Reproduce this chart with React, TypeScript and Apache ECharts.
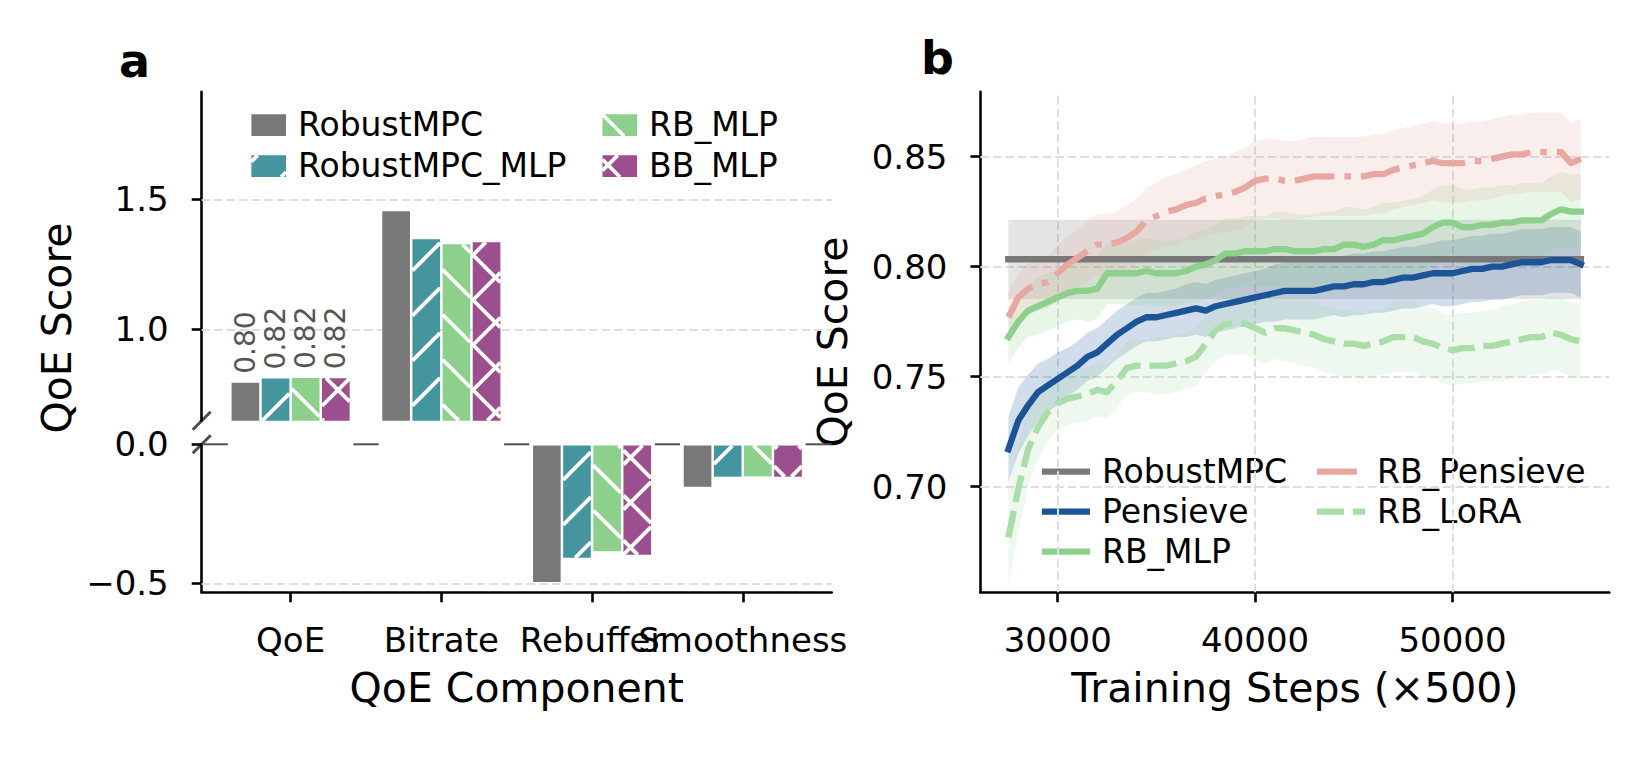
import React, { useEffect, useRef } from 'react';
import * as echarts from 'echarts';

// ---------------- Panel a data ----------------
const CATEGORIES = ['QoE', 'Bitrate', 'Rebuffer', 'Smoothness'];
const METHODS_A = ['RobustMPC', 'RobustMPC_MLP', 'RB_MLP', 'BB_MLP'];
const ROBUSTMPC_BARS = [0.799, 1.459, -0.5, -0.157];
const ROBUSTMPC_MLP_BARS = [0.816, 1.351, -0.413, -0.121];
const RB_MLP_BARS = [0.818, 1.332, -0.389, -0.12];
const BB_MLP_BARS = [0.817, 1.34, -0.402, -0.121];
const A_UPPER_TICKS = [1.0, 1.5];
const A_LOWER_TICKS = [-0.5, 0.0];

// ---------------- Panel b data ----------------
const STEPS = [
  27500, 28000, 28500, 29000, 29500, 30000, 30500, 31000, 31500, 32000,
  32500, 33000, 33500, 34000, 34500, 35000, 35500, 36000, 36500, 37000,
  37500, 38000, 38500, 39000, 39500, 40000, 40500, 41000, 41500, 42000,
  42500, 43000, 43500, 44000, 44500, 45000, 45500, 46000, 46500, 47000,
  47500, 48000, 48500, 49000, 49500, 50000, 50500, 51000, 51500, 52000,
  52500, 53000, 53500, 54000, 54500, 55000, 55500, 56000, 56500,
];
const ROBUSTMPC_QOE = 0.8033;
const ROBUSTMPC_STD = 0.018;
const PENSIEVE = [
  0.717, 0.730, 0.737, 0.743, 0.746, 0.749, 0.752, 0.755, 0.759, 0.761,
  0.765, 0.769, 0.772, 0.775, 0.777, 0.777, 0.778, 0.779, 0.780, 0.781,
  0.780, 0.782, 0.783, 0.784, 0.785, 0.786, 0.787, 0.788, 0.789, 0.789,
  0.789, 0.789, 0.790, 0.791, 0.791, 0.792, 0.792, 0.793, 0.793, 0.794,
  0.795, 0.795, 0.796, 0.797, 0.797, 0.797, 0.798, 0.799, 0.799, 0.800,
  0.800, 0.801, 0.802, 0.802, 0.802, 0.803, 0.803, 0.803, 0.801,
];
const PENSIEVE_STD = [
  0.015, 0.015, 0.014, 0.013, 0.012, 0.012, 0.011, 0.011, 0.011, 0.011,
  0.011, 0.011, 0.011, 0.011, 0.011, 0.011, 0.011, 0.011, 0.012, 0.012,
  0.012, 0.012, 0.012, 0.012, 0.012, 0.012, 0.012, 0.013, 0.013, 0.013,
  0.013, 0.013, 0.013, 0.013, 0.014, 0.014, 0.014, 0.014, 0.014, 0.014,
  0.014, 0.014, 0.014, 0.014, 0.015, 0.015, 0.015, 0.015, 0.015, 0.015,
  0.015, 0.015, 0.015, 0.015, 0.015, 0.015, 0.015, 0.015, 0.015,
];
const RB_MLP = [
  0.768, 0.775, 0.780, 0.782, 0.784, 0.786, 0.788, 0.789, 0.789, 0.790,
  0.797, 0.797, 0.797, 0.797, 0.798, 0.797, 0.797, 0.797, 0.798, 0.800,
  0.801, 0.803, 0.806, 0.806, 0.807, 0.807, 0.807, 0.808, 0.808, 0.807,
  0.807, 0.807, 0.808, 0.808, 0.810, 0.810, 0.809, 0.810, 0.812, 0.812,
  0.813, 0.814, 0.815, 0.818, 0.820, 0.820, 0.818, 0.818, 0.819, 0.819,
  0.820, 0.820, 0.821, 0.821, 0.821, 0.824, 0.826, 0.825, 0.825,
];
const RB_MLP_STD = [
  0.012, 0.012, 0.012, 0.013, 0.013, 0.013, 0.013, 0.013, 0.014, 0.014,
  0.014, 0.014, 0.014, 0.015, 0.015, 0.015, 0.015, 0.015, 0.015, 0.016,
  0.016, 0.016, 0.016, 0.016, 0.016, 0.016, 0.016, 0.017, 0.017, 0.017,
  0.017, 0.017, 0.017, 0.017, 0.017, 0.017, 0.017, 0.017, 0.017, 0.017,
  0.017, 0.017, 0.017, 0.017, 0.017, 0.017, 0.017, 0.017, 0.017, 0.017,
  0.017, 0.017, 0.017, 0.017, 0.017, 0.017, 0.017, 0.017, 0.017,
];
const RB_PENSIEVE = [
  0.777, 0.786, 0.790, 0.792, 0.793, 0.797, 0.801, 0.804, 0.807, 0.810,
  0.810, 0.811, 0.813, 0.816, 0.821, 0.823, 0.825, 0.826, 0.828, 0.829,
  0.831, 0.832, 0.833, 0.834, 0.836, 0.839, 0.840, 0.840, 0.839, 0.839,
  0.840, 0.841, 0.841, 0.841, 0.841, 0.841, 0.841, 0.842, 0.842, 0.844,
  0.845, 0.846, 0.847, 0.848, 0.847, 0.847, 0.847, 0.848, 0.848, 0.849,
  0.850, 0.851, 0.851, 0.852, 0.852, 0.852, 0.852, 0.847, 0.849,
];
const RB_PENSIEVE_STD = [
  0.011, 0.011, 0.012, 0.012, 0.012, 0.013, 0.013, 0.013, 0.014, 0.014,
  0.014, 0.014, 0.015, 0.015, 0.015, 0.015, 0.016, 0.016, 0.016, 0.017,
  0.017, 0.017, 0.017, 0.018, 0.018, 0.018, 0.018, 0.018, 0.018, 0.018,
  0.018, 0.018, 0.018, 0.018, 0.018, 0.018, 0.018, 0.018, 0.018, 0.018,
  0.018, 0.018, 0.018, 0.018, 0.018, 0.018, 0.018, 0.018, 0.018, 0.018,
  0.018, 0.018, 0.018, 0.018, 0.018, 0.018, 0.018, 0.018, 0.018,
];
const RB_LORA = [
  0.677, 0.699, 0.717, 0.727, 0.734, 0.738, 0.740, 0.741, 0.742, 0.744,
  0.743, 0.748, 0.754, 0.755, 0.755, 0.755, 0.755, 0.756, 0.757, 0.759,
  0.765, 0.771, 0.774, 0.774, 0.774, 0.772, 0.770, 0.772, 0.772, 0.771,
  0.770, 0.769, 0.767, 0.766, 0.765, 0.765, 0.764, 0.765, 0.766, 0.768,
  0.768, 0.768, 0.766, 0.765, 0.763, 0.762, 0.763, 0.763, 0.764, 0.764,
  0.765, 0.766, 0.767, 0.768, 0.768, 0.770, 0.769, 0.767, 0.766,
];
const RB_LORA_STD = [
  0.022, 0.020, 0.017, 0.015, 0.013, 0.012, 0.012, 0.012, 0.012, 0.012,
  0.012, 0.012, 0.012, 0.012, 0.012, 0.013, 0.013, 0.013, 0.013, 0.013,
  0.013, 0.014, 0.014, 0.014, 0.014, 0.014, 0.014, 0.014, 0.015, 0.015,
  0.015, 0.015, 0.015, 0.015, 0.015, 0.015, 0.015, 0.015, 0.015, 0.016,
  0.016, 0.016, 0.016, 0.016, 0.016, 0.016, 0.016, 0.016, 0.016, 0.016,
  0.017, 0.017, 0.017, 0.017, 0.017, 0.017, 0.017, 0.017, 0.017,
];
const X_TICKS_B = [30000, 40000, 50000];
const Y_TICKS_B = [0.7, 0.75, 0.8, 0.85];

// ---------------- Styles & layout ----------------
const FONT = 'DejaVu Sans';
const BAR_VALUES = [ROBUSTMPC_BARS, ROBUSTMPC_MLP_BARS, RB_MLP_BARS, BB_MLP_BARS];
const BAR_COLORS = ['#787878', '#44959e', '#8dd08b', '#9b4f8e'];
const BAR_HATCH = ['', '/', '\\', 'x'];
const BAR_W = 0.2;

const B_NAMES = ['RobustMPC', 'Pensieve', 'RB_MLP', 'RB_Pensieve', 'RB_LoRA'];
const B_COLORS = ['#787878', '#1b5497', '#8dd08b', '#e8a8a2', '#aadda8'];
const B_DASH: any[] = ['solid', 'solid', 'solid', [40, 10, 6.5, 10], [27, 9]];

const A_LEFT = 201.7, A_WIDTH = 630;
const A_TOP = 91.7, A_UP_H = 329;
const A_LOW_TOP = 444.3, A_LOW_H = 148;
const A_X_MIN = -0.59, A_X_MAX = 3.59;
const A_UP_MIN = 0.6485, A_UP_MAX = 1.914;
const A_LOW_MIN = -0.5324, A_LOW_MAX = 0;
const B_LEFT = 980.4, B_WIDTH = 628.9, B_TOP = 91.7, B_H = 500.6;
const B_X_MIN = 26082, B_X_MAX = 57942;
const B_Y_MIN = 0.652, B_Y_MAX = 0.8795;

const GRID_LINE = { color: '#dedede', width: 2, type: [8.5, 4] as any };
const AXIS_LINE = { color: '#000', width: 2.6 };
const TICK_FONT = 34;
const X_LABEL_OFFSET = 48; // from axis line to label centre

const HATCH_SPACING = 45;
const HATCH_PHASE_NE = 8;
const HATCH_PHASE_NW = 38;
const HATCH_WIDTH = 3.8;

function hatchSegments(x0: number, y0: number, x1: number, y1: number, kind: string) {
  const segs: number[][] = [];
  const parts = kind === 'x' ? ['/', '\\'] : kind ? [kind] : [];
  for (const p of parts) {
    if (p === '/') {
      let c = Math.ceil((x0 + y0 - HATCH_PHASE_NE) / HATCH_SPACING) * HATCH_SPACING + HATCH_PHASE_NE;
      for (; c <= x1 + y1; c += HATCH_SPACING) {
        const xa = Math.max(x0, c - y1), xb = Math.min(x1, c - y0);
        if (xb > xa) segs.push([xa, c - xa, xb, c - xb]);
      }
    } else {
      let c = Math.ceil((x0 - y1 - HATCH_PHASE_NW) / HATCH_SPACING) * HATCH_SPACING + HATCH_PHASE_NW;
      for (; c <= x1 - y0; c += HATCH_SPACING) {
        const xa = Math.max(x0, c + y0), xb = Math.min(x1, c + y1);
        if (xb > xa) segs.push([xa, xa - c, xb, xb - c]);
      }
    }
  }
  return segs;
}

function hatchLineEls(segs: number[][]) {
  return segs.map((s) => ({
    type: 'line',
    shape: { x1: s[0], y1: s[1], x2: s[2], y2: s[3] },
    style: { stroke: '#ffffff', lineWidth: HATCH_WIDTH },
  }));
}

function rgba(hex: string, a: number) {
  const n = parseInt(hex.slice(1), 16);
  return `rgba(${(n >> 16) & 255},${(n >> 8) & 255},${n & 255},${a})`;
}

const makeBarRender = (withLabels: boolean) => (params: any, api: any) => {
  const ci = api.value(0), v = api.value(1), mi = api.value(2);
  const cs = params.coordSys;
  const off = (mi - (METHODS_A.length - 1) / 2) * BAR_W;
  const pa = api.coord([ci + off - BAR_W / 2, 0]);
  const pb = api.coord([ci + off + BAR_W / 2, v]);
  const EDGE = 1.25;
  const x0 = pa[0] + EDGE, x1 = pb[0] - EDGE;
  let top = Math.min(pa[1], pb[1]);
  let bot = Math.max(pa[1], pb[1]);
  const gTop = cs.y, gBot = cs.y + cs.height;
  const clipTop = top < gTop - 0.01, clipBot = bot > gBot + 0.01;
  top = clipTop ? gTop : top + EDGE;
  bot = clipBot ? gBot : bot - EDGE;
  if (bot - top <= 0.5) return null;
  const children: any[] = [
    { type: 'rect', shape: { x: x0, y: top, width: x1 - x0, height: bot - top }, style: { fill: BAR_COLORS[mi] } },
    ...hatchLineEls(hatchSegments(x0, top, x1, bot, BAR_HATCH[mi])),
  ];
  if (withLabels && ci === 0) {
    children.push({
      type: 'text',
      x: (x0 + x1) / 2,
      y: top - 9,
      rotation: Math.PI / 2,
      style: { text: v.toFixed(2), fill: '#555555', fontSize: 28, fontFamily: FONT, align: 'left', verticalAlign: 'middle' },
    });
  }
  return { type: 'group', children };
};

const zeroLineRender = (params: any, api: any) => {
  const i = api.value(0);
  const half = (BAR_W * METHODS_A.length) / 2;
  const start = Math.max(i + half, A_X_MIN);
  const end = Math.min(i + 1 - half, A_X_MAX);
  const p0 = api.coord([start, 0]);
  const p1 = api.coord([end, 0]);
  const x1 = start > A_X_MIN ? p0[0] + 2.5 : p0[0];
  const x2 = end < A_X_MAX ? p1[0] - 2.5 : p1[0];
  return { type: 'line', shape: { x1, y1: p0[1], x2, y2: p1[1] }, style: { stroke: '#505050', lineWidth: 2 } };
};

const categoryLabelRender = (params: any, api: any) => {
  const i = api.value(0);
  const cs = params.coordSys;
  const p = api.coord([i, A_LOW_MIN]);
  return {
    type: 'text',
    x: p[0],
    y: cs.y + cs.height + X_LABEL_OFFSET,
    style: { text: CATEGORIES[i], fill: '#000', fontSize: TICK_FONT, fontFamily: FONT, align: 'center', verticalAlign: 'middle' },
  };
};

const makeBandRender = (color: string) => (params: any, api: any) => {
  if (params.dataIndexInside !== 0) return null;
  const n = params.dataInsideLength;
  const up: number[][] = [], lo: number[][] = [];
  for (let j = 0; j < n; j++) {
    const x = api.value(0, j);
    lo.push(api.coord([x, api.value(1, j)]));
    up.push(api.coord([x, api.value(2, j)]));
  }
  return { type: 'polygon', shape: { points: up.concat(lo.reverse()) }, style: { fill: rgba(color, 0.2) } };
};

function gridMarkLine(data: any[]) {
  return {
    silent: true,
    symbol: 'none',
    z: 1,
    label: { show: false },
    emphasis: { disabled: true },
    lineStyle: GRID_LINE,
    data,
  };
}

function buildOption() {
  const means = [STEPS.map(() => ROBUSTMPC_QOE), PENSIEVE, RB_MLP, RB_PENSIEVE, RB_LORA];
  const stds = [STEPS.map(() => ROBUSTMPC_STD), PENSIEVE_STD, RB_MLP_STD, RB_PENSIEVE_STD, RB_LORA_STD];

  const barRows: number[][] = [];
  METHODS_A.forEach((_, mi) => BAR_VALUES[mi].forEach((v, ci) => barRows.push([ci, v, mi])));
  const gapRows = [-1, ...CATEGORIES.map((_, i) => i)].map((i) => [i]);
  const catRows = CATEGORIES.map((_, i) => [i]);

  const tickLabel = { fontFamily: FONT, fontSize: TICK_FONT, color: '#000', hideOverlap: false };
  const tick = (values: number[]) => ({ show: true, length: 10, customValues: values, lineStyle: { color: '#000', width: 2.6 } });

  const series: any[] = [
    { type: 'line', name: 'grid-a-up', xAxisIndex: 0, yAxisIndex: 0, data: [], markLine: gridMarkLine(A_UPPER_TICKS.map((v) => ({ yAxis: v }))) },
    { type: 'line', name: 'grid-a-low', xAxisIndex: 1, yAxisIndex: 1, data: [], markLine: gridMarkLine([{ yAxis: -0.5 }]) },
    { type: 'line', name: 'grid-b', xAxisIndex: 2, yAxisIndex: 2, data: [],
      markLine: gridMarkLine([...X_TICKS_B.map((v) => ({ xAxis: v })), ...Y_TICKS_B.map((v) => ({ yAxis: v }))]) },
    { type: 'custom', name: 'zero-line', xAxisIndex: 1, yAxisIndex: 1, data: gapRows, renderItem: zeroLineRender, silent: true, z: 3 },
    { type: 'custom', name: 'bars-upper', xAxisIndex: 0, yAxisIndex: 0, data: barRows, renderItem: makeBarRender(true), silent: true, z: 4 },
    { type: 'custom', name: 'bars-lower', xAxisIndex: 1, yAxisIndex: 1, data: barRows, renderItem: makeBarRender(false), silent: true, z: 4 },
    { type: 'custom', name: 'category-labels', xAxisIndex: 1, yAxisIndex: 1, data: catRows, renderItem: categoryLabelRender, silent: true, z: 4, clip: false },
  ];
  B_NAMES.forEach((name, k) => {
    series.push({
      type: 'custom', name: name + ' band', xAxisIndex: 2, yAxisIndex: 2, silent: true, z: 2,
      data: STEPS.map((s, i) => [s, means[k][i] - stds[k][i], means[k][i] + stds[k][i]]),
      renderItem: makeBandRender(B_COLORS[k]),
    });
  });
  B_NAMES.forEach((name, k) => {
    const solid = B_DASH[k] === 'solid';
    series.push({
      type: 'line', name, xAxisIndex: 2, yAxisIndex: 2, z: 3,
      data: STEPS.map((s, i) => [s, means[k][i]]),
      symbol: 'none', silent: true,
      lineStyle: { color: B_COLORS[k], width: k === 0 ? 6.5 : 6.3, type: B_DASH[k], cap: solid ? 'square' : 'butt', join: 'round' },
    });
  });

  // legends as graphics
  const graphics: any[] = [];
  METHODS_A.forEach((name, mi) => {
    const col = Math.floor(mi / 2), row = mi % 2;
    const x = [251.4, 602.5][col], y = [114.3, 155.3][row];
    const w = 34.6, h = 21.7;
    graphics.push({ type: 'rect', shape: { x, y, width: w, height: h }, style: { fill: BAR_COLORS[mi] }, silent: true });
    hatchLineEls(hatchSegments(x, y, x + w, y + h, BAR_HATCH[mi])).forEach((el) => graphics.push({ ...el, silent: true }));
    graphics.push({ type: 'text', x: x + w + 12, y: y + h / 2 - 1, silent: true,
      style: { text: name, fontSize: 33, fontFamily: FONT, fill: '#000', align: 'left', verticalAlign: 'middle' } });
  });
  B_NAMES.forEach((name, k) => {
    const col = k < 3 ? 0 : 1, row = k < 3 ? k : k - 3;
    const hx = [1042, 1317][col], ry = [471.7, 511.7, 551.7][row];
    const dash = B_DASH[k] === 'solid' ? null : B_DASH[k];
    graphics.push({ type: 'line', silent: true, shape: { x1: hx, y1: ry, x2: hx + 48, y2: ry },
      style: { stroke: B_COLORS[k], lineWidth: 6.3, lineDash: dash, lineCap: 'butt' } });
    graphics.push({ type: 'text', x: hx + 60, y: ry, silent: true,
      style: { text: name, fontSize: 33, fontFamily: FONT, fill: '#000', align: 'left', verticalAlign: 'middle' } });
  });
  // axis titles and panel letters
  const title = (text: string, x: number, y: number, rot = 0, size = 41, weight: any = 'normal', align = 'center') => ({
    type: 'text', x, y, rotation: rot, silent: true,
    style: { text, fontSize: size, fontWeight: weight, fontFamily: FONT, fill: '#000', align, verticalAlign: 'middle' },
  });
  graphics.push(title('QoE Component', A_LEFT + A_WIDTH / 2, 687.5));
  graphics.push(title('Training Steps (×500)', B_LEFT + B_WIDTH / 2, 688));
  graphics.push(title('QoE Score', 57, 328, Math.PI / 2));
  graphics.push(title('QoE Score', 833, 342, Math.PI / 2));
  graphics.push(title('a', 119, 61, 0, 46, 'bold', 'left'));
  graphics.push(title('b', 921, 57.5, 0, 46, 'bold', 'left'));
  // broken-axis marks
  [A_TOP + A_UP_H, A_LOW_TOP].forEach((yc) => {
    graphics.push({ type: 'line', silent: true, shape: { x1: A_LEFT - 9, y1: yc + 9, x2: A_LEFT + 9, y2: yc - 9 },
      style: { stroke: '#4d4d4d', lineWidth: 3 } });
  });

  return {
    animation: false,
    backgroundColor: '#ffffff',
    grid: [
      { left: A_LEFT, top: A_TOP, width: A_WIDTH, height: A_UP_H },
      { left: A_LEFT, top: A_LOW_TOP, width: A_WIDTH, height: A_LOW_H },
      { left: B_LEFT, top: B_TOP, width: B_WIDTH, height: B_H },
    ],
    xAxis: [
      { gridIndex: 0, type: 'value', min: A_X_MIN, max: A_X_MAX, show: false },
      {
        gridIndex: 1, type: 'value', min: A_X_MIN, max: A_X_MAX,
        axisLine: { show: true, onZero: false, lineStyle: AXIS_LINE },
        axisTick: tick(CATEGORIES.map((_, i) => i)),
        axisLabel: { show: false, customValues: CATEGORIES.map((_, i) => i) },
        splitLine: { show: false },
      },
      {
        gridIndex: 2, type: 'value', min: B_X_MIN, max: B_X_MAX,
        axisLine: { show: true, onZero: false, lineStyle: AXIS_LINE },
        axisTick: tick(X_TICKS_B),
        axisLabel: { ...tickLabel, margin: 31, lineHeight: 34, customValues: X_TICKS_B, formatter: (v: number) => String(Math.round(v)) },
        splitLine: { show: false },
      },
    ],
    yAxis: [
      {
        gridIndex: 0, type: 'value', min: A_UP_MIN, max: A_UP_MAX,
        axisLine: { show: true, onZero: false, lineStyle: AXIS_LINE },
        axisTick: tick(A_UPPER_TICKS),
        axisLabel: { ...tickLabel, margin: 33, customValues: A_UPPER_TICKS, formatter: (v: number) => v.toFixed(1) },
        splitLine: { show: false },
      },
      {
        gridIndex: 1, type: 'value', min: A_LOW_MIN, max: A_LOW_MAX,
        axisLine: { show: true, onZero: false, lineStyle: AXIS_LINE },
        axisTick: tick(A_LOWER_TICKS),
        axisLabel: { ...tickLabel, margin: 33, customValues: A_LOWER_TICKS,
          formatter: (v: number) => (v < 0 ? '\u2212' + Math.abs(v).toFixed(1) : Math.abs(v).toFixed(1)) },
        splitLine: { show: false },
      },
      {
        gridIndex: 2, type: 'value', min: B_Y_MIN, max: B_Y_MAX,
        axisLine: { show: true, onZero: false, lineStyle: AXIS_LINE },
        axisTick: tick(Y_TICKS_B),
        axisLabel: { ...tickLabel, margin: 33, customValues: Y_TICKS_B, formatter: (v: number) => v.toFixed(2) },
        splitLine: { show: false },
      },
    ],
    series,
    graphic: { elements: graphics },
  };
}

export default function App() {
  const ref = useRef<HTMLDivElement>(null);
  useEffect(() => {
    if (!ref.current) return;
    const chart = echarts.init(ref.current, null, { renderer: 'svg' });
    chart.setOption(buildOption() as any);
    return () => chart.dispose();
  }, []);
  return (
    <div style={{ position: 'absolute', left: 0, top: 0, width: 1649, height: 762, background: '#fff' }}>
      <div ref={ref} style={{ width: 1649, height: 762 }} />
    </div>
  );
}
